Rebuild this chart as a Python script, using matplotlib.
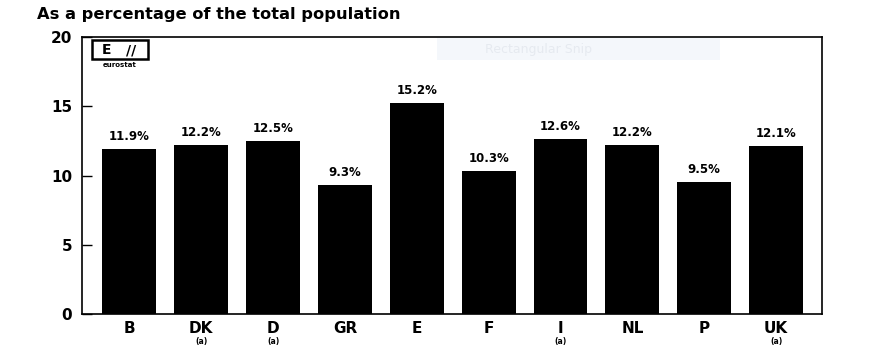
import matplotlib.pyplot as plt
from matplotlib.patches import Rectangle

countries = ['B', 'DK', 'D', 'GR', 'E', 'F', 'I', 'NL', 'P', 'UK']
notes = ['', '(a)', '(a)', '', '', '', '(a)', '', '', '(a)']
shares = [11.9, 12.2, 12.5, 9.3, 15.2, 10.3, 12.6, 12.2, 9.5, 12.1]

plt.rcParams['font.family'] = ['DejaVu Sans']
plt.rcParams['font.weight'] = 'bold'

fig = plt.figure(figsize=(8.8, 3.5), dpi=100)
ax = fig.add_axes([82 / 880, 1 - 314 / 350, 740 / 880, 277 / 350])

x = range(len(countries))
ax.bar(x, shares, width=0.75, color='black')
for i, v in enumerate(shares):
    ax.text(i, v + 0.45, f'{v}%', ha='center', va='bottom', fontsize=8.5, fontweight='bold')

ax.set_xlim(-0.66, 9.64)
ax.set_ylim(0, 20)
ax.set_yticks([0, 5, 10, 15, 20])
ax.set_yticklabels(['0', '5', '10', '15', '20'], fontsize=11, fontweight='bold')
ax.tick_params(axis='y', direction='in', length=7, width=1, pad=7)
ax.set_xticks(list(x))
ax.set_xticklabels(countries, fontsize=11, fontweight='bold')
ax.tick_params(axis='x', length=0, pad=5)
for i, n in enumerate(notes):
    if n:
        ax.text(i, -1.95, n, ha='center', va='center', fontsize=5.5, fontweight='bold')
for s in ax.spines.values():
    s.set_linewidth(1.2)

# eurostat logo in the corner
ax.add_patch(Rectangle((-0.52, 18.4), 0.78, 1.35, fill=False, lw=1.8, color='black'))
ax.text(-0.32, 19.05, 'E', ha='center', va='center', fontsize=10, fontweight='bold')
ax.text(0.02, 19.05, '//', ha='center', va='center', fontsize=10, fontweight='bold')
ax.text(-0.14, 18.0, 'eurostat', ha='center', va='center', fontsize=5, fontweight='bold')

# faint overlay box near the top
fig.patches.append(Rectangle((437 / 880, 1 - 60 / 350), 283 / 880, 22 / 350,
                             transform=fig.transFigure, facecolor='#f4f7fb',
                             edgecolor='none', zorder=0.5))
fig.text(485 / 880, 1 - 49 / 350, 'Rectangular Snip', ha='left', va='center',
         fontsize=9, fontweight='normal', color='#e6eaf0')

fig.text(37 / 880, 1 - 15 / 350, 'As a percentage of the total population',
         ha='left', va='center', fontsize=11.7, fontweight='bold')

fig.savefig('out.png', dpi=100)
